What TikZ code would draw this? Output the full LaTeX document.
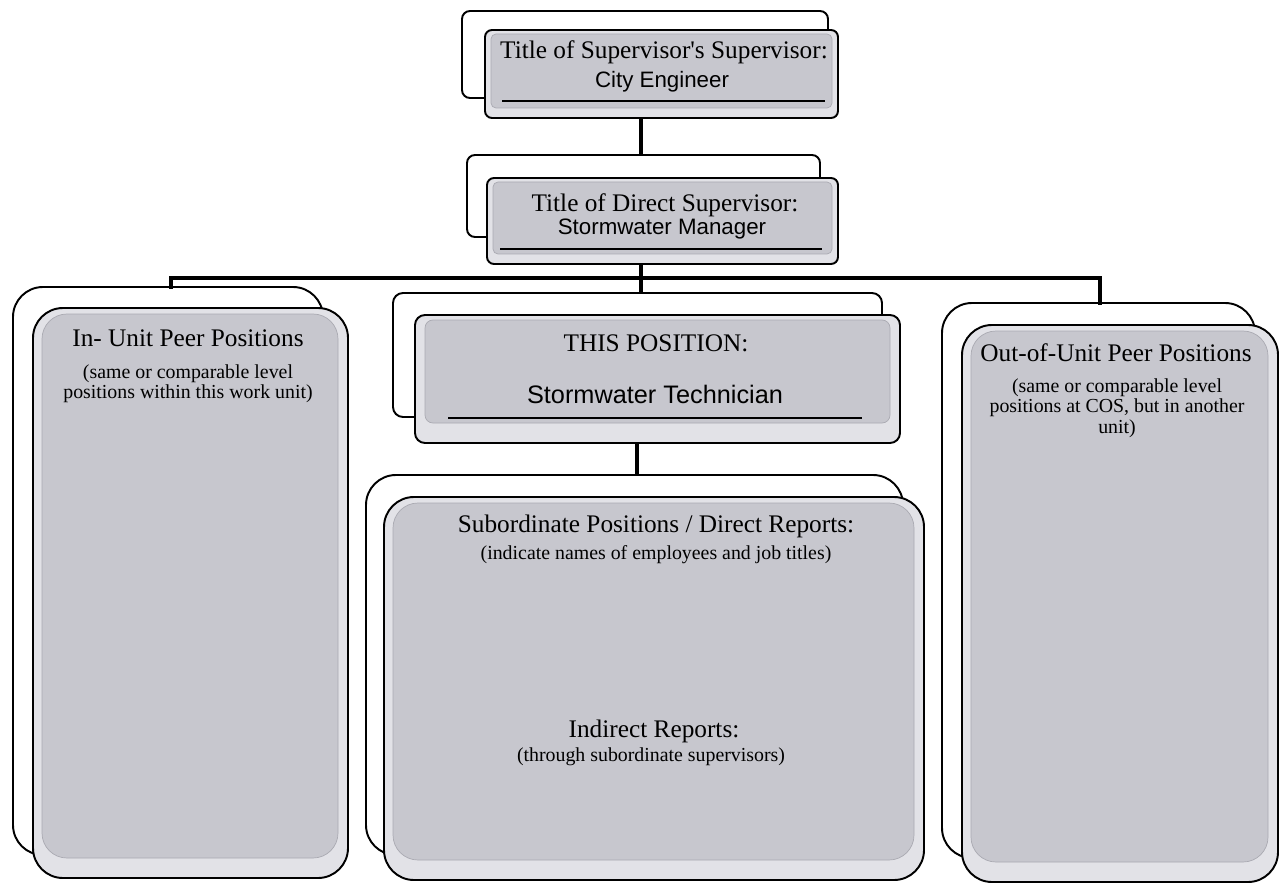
\documentclass[tikz,border=0pt]{standalone}
\usepackage{fontspec}
\setmainfont{Liberation Serif}
\setsansfont{Liberation Sans}
\usetikzlibrary{fit,calc}
\definecolor{bandgray}{RGB}{226,226,231}
\definecolor{innergray}{RGB}{199,199,206}
\definecolor{innerline}{RGB}{170,170,178}
\tikzset{
  backbox/.style={draw=black, line width=1.1pt, fill=white, inner sep=0pt, outer sep=0pt},
  frontbox/.style={draw=black, line width=1.1pt, fill=bandgray, inner sep=0pt, outer sep=0pt},
  innerfill/.style={fill=innergray, draw=innerline, line width=0.4pt},
  conn/.style={draw=black, line width=2.5pt},
  uline/.style={draw=black, line width=0.9pt},
  ttl/.style={font=\fontsize{14.4}{16}\selectfont, inner sep=0pt, align=center},
  sub/.style={font=\fontsize{11.3}{11.6}\selectfont, inner sep=0pt, align=center},
  sansA/.style={font=\sffamily\fontsize{12.7}{14}\selectfont, inner sep=0pt},
  sansB/.style={font=\sffamily\fontsize{14.4}{16}\selectfont, inner sep=0pt},
}
\begin{document}
\begin{tikzpicture}[x=0.02cm,y=-0.02cm]
\useasboundingbox (0,0) rectangle (1283,888);

% --- Supervisor's supervisor
\node[backbox, rounded corners=0.16cm, fit={(462,11)(828,98)}] (b1) {};
\node[frontbox, rounded corners=0.14cm, fit={(485,30)(838,118)}] (f1) {};
\path[innerfill, rounded corners=0.1cm] ($(f1.north west)+(6,4)$) rectangle ($(f1.south east)+(-6,-10)$);
\node[ttl] (t1a) at (664,52) {Title of Supervisor\textquotesingle s Supervisor:};
\node[sansA] (t1b) at (662,82) {City Engineer};
\draw[uline] (502,101) -- (825,101);

% --- Direct supervisor
\node[backbox, rounded corners=0.16cm, fit={(467,155)(820,237)}] (b2) {};
\node[frontbox, rounded corners=0.14cm, fit={(487,178)(838,264)}] (f2) {};
\path[innerfill, rounded corners=0.1cm] ($(f2.north west)+(6,4)$) rectangle ($(f2.south east)+(-6,-10)$);
\node[ttl] (t2a) at (665,205) {Title of Direct Supervisor:};
\node[sansA] (t2b) at (662,229) {Stormwater Manager};
\draw[uline] (500,249) -- (822,249);

% --- In-unit peers
\node[backbox, rounded corners=0.6cm, fit={(13,287)(323,855)}] (b3) {};
\node[frontbox, rounded corners=0.6cm, fit={(33,308)(348,878)}] (f3) {};
\path[innerfill, rounded corners=0.5cm] ($(f3.north west)+(9,6)$) rectangle ($(f3.south east)+(-10,-20)$);
\node[ttl] (t3a) at (188,338) {In- Unit Peer Positions};
\node[sub] (t3b) at (188,384) {(same or comparable level\\positions within this work unit)};

% --- This position
\node[backbox, rounded corners=0.2cm, fit={(393,293)(882,417)}] (b4) {};
\node[frontbox, rounded corners=0.2cm, fit={(415,315)(900,443)}] (f4) {};
\path[innerfill, rounded corners=0.16cm] ($(f4.north west)+(10,5)$) rectangle ($(f4.south east)+(-10,-20)$);
\node[ttl] (t4a) at (656,343) {THIS POSITION:};
\node[sansB] (t4b) at (655,394) {Stormwater Technician};
\draw[uline] (448,418) -- (862,418);

% --- Subordinates
\node[backbox, rounded corners=0.6cm, fit={(366,475)(903,855)}] (b5) {};
\node[frontbox, rounded corners=0.6cm, fit={(384,497)(924,880)}] (f5) {};
\path[innerfill, rounded corners=0.5cm] ($(f5.north west)+(9,6)$) rectangle ($(f5.south east)+(-10,-20)$);
\node[ttl] (t5a) at (656,526) {Subordinate Positions / Direct Reports:};
\node[sub] (t5b) at (656,555) {(indicate names of employees and job titles)};
\node[ttl] (t5c) at (654,731) {Indirect Reports:};
\node[sub] (t5d) at (651,757) {(through subordinate supervisors)};

% --- Out-of-unit peers
\node[backbox, rounded corners=0.6cm, fit={(942,303)(1255,858)}] (b6) {};
\node[frontbox, rounded corners=0.6cm, fit={(962,325)(1278,882)}] (f6) {};
\path[innerfill, rounded corners=0.5cm] ($(f6.north west)+(9,6)$) rectangle ($(f6.south east)+(-10,-20)$);
\node[ttl] (t6a) at (1116,353) {Out-of-Unit Peer Positions};
\node[sub] (t6b) at (1117,408) {(same or comparable level\\positions at COS, but in another\\unit)};

% --- connectors
\coordinate (xm) at (641,0);
\coordinate (xl) at (171,0);
\coordinate (xr) at (1100,0);
\coordinate (xs) at (637,0);
\coordinate (bus) at (0,278);
\draw[conn] (xm |- f1.south) -- (xm |- b2.north);
\draw[conn] (xm |- f2.south) -- (xm |- b4.north);
\draw[conn, line cap=rect] (xl |- b3.north) -- (xl |- bus) -- (xr |- bus) -- (xr |- b6.north);
\draw[conn] (xs |- f4.south) -- (xs |- b5.north);
\end{tikzpicture}
\end{document}
